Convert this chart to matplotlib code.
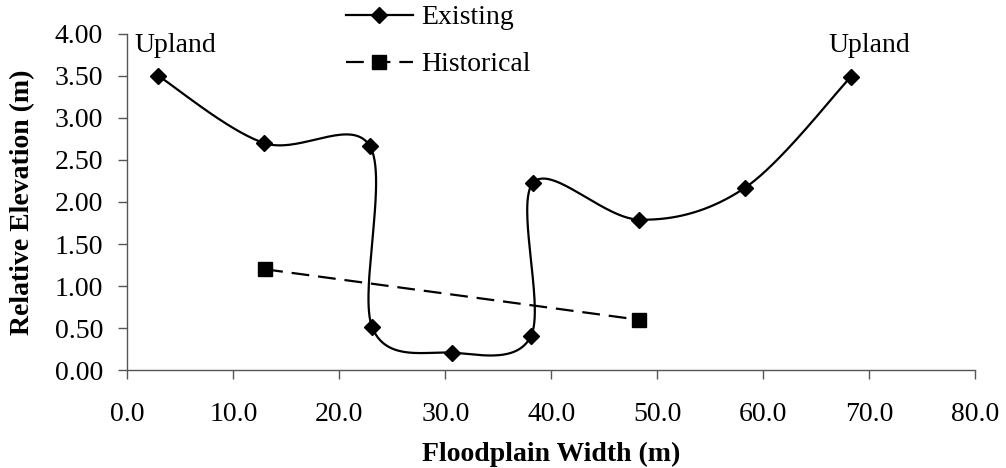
import numpy as np
import matplotlib
matplotlib.use('Agg')
import matplotlib.pyplot as plt
from matplotlib.lines import Line2D

# ---- data ----
existing_x = [2.9, 12.9, 22.9, 23.1, 30.6, 38.1, 38.3, 48.3, 58.3, 68.3]
existing_y = [3.50, 2.70, 2.66, 0.51, 0.21, 0.41, 2.23, 1.79, 2.17, 3.49]
historical_x = [13.0, 48.3]
historical_y = [1.20, 0.60]
x_ticks = [0, 10, 20, 30, 40, 50, 60, 70, 80]
y_ticks = [0.0, 0.5, 1.0, 1.5, 2.0, 2.5, 3.0, 3.5, 4.0]
label_text = ["Upland", "Upland"]
label_x = [4.5, 70.0]
label_y = [3.86, 3.86]

plt.rcParams['font.family'] = ['Liberation Serif', 'DejaVu Serif']
FS = 20

fig = plt.figure(figsize=(10.06, 4.68), dpi=100)
ax = fig.add_axes([0.1267, 0.2088, 0.8425, 0.7192])
ax.set_xlim(0, 80)
ax.set_ylim(0, 4)


def excel_smooth(ax, xs, ys, n=60):
    pts = ax.transData.transform(np.column_stack([xs, ys]))
    m = len(pts)
    out = [pts[0]]
    t = np.linspace(0, 1, n)[1:, None]
    for i in range(m - 1):
        p0 = pts[max(i - 1, 0)]
        p1 = pts[i]
        p2 = pts[i + 1]
        p3 = pts[min(i + 2, m - 1)]
        c1 = p1 + (p2 - p0) / 6.0
        c2 = p2 - (p3 - p1) / 6.0
        seg = (1 - t) ** 3 * p1 + 3 * (1 - t) ** 2 * t * c1 + 3 * (1 - t) * t ** 2 * c2 + t ** 3 * p2
        out.extend(seg)
    out = np.array(out)
    return ax.transData.inverted().transform(out)


curve = excel_smooth(ax, existing_x, existing_y)
ax.plot(curve[:, 0], curve[:, 1], color='black', lw=1.6, solid_capstyle='round', zorder=3)
ax.plot(existing_x, existing_y, ls='none', marker='D', ms=7.8, color='black', zorder=4)
ax.plot(historical_x, historical_y, color='black', lw=1.6, dashes=(8, 4), marker='s', ms=10, zorder=3)

for t, x, y in zip(label_text, label_x, label_y):
    ax.text(x, y, t, ha='center', va='center', fontsize=FS, color='black')

ax.set_xticks(x_ticks)
ax.set_yticks(y_ticks)
ax.set_xticklabels([f"{v:.1f}" for v in x_ticks])
ax.set_yticklabels([f"{v:.2f}" for v in y_ticks])
ax.tick_params(axis='both', direction='out', length=6.5, width=1, color='#555555',
               labelsize=FS, labelcolor='black')
ax.tick_params(axis='y', pad=11)
ax.tick_params(axis='x', pad=16.5)
for s in ['top', 'right']:
    ax.spines[s].set_visible(False)
for s in ['left', 'bottom']:
    ax.spines[s].set_color('#555555')
    ax.spines[s].set_linewidth(1)

ax.set_xlabel('Floodplain Width (m)', fontsize=FS, fontweight='bold', labelpad=10.5)
ax.set_ylabel('Relative Elevation (m)', fontsize=FS, fontweight='bold', labelpad=14)

handles = [
    Line2D([], [], color='black', lw=1.6, marker='D', ms=7.8),
    Line2D([], [], color='black', lw=1.6, dashes=(8, 4), marker='s', ms=10),
]
fig.legend(handles, ['Existing', 'Historical'], loc='upper left',
           bbox_to_anchor=(346 / 1006, 1.0 - 5 / 468), frameon=False, fontsize=FS,
           handlelength=2.4, handletextpad=0.3, labelspacing=0.77,
           borderpad=0.0, borderaxespad=0.0)

fig.savefig('out.png', dpi=100)
